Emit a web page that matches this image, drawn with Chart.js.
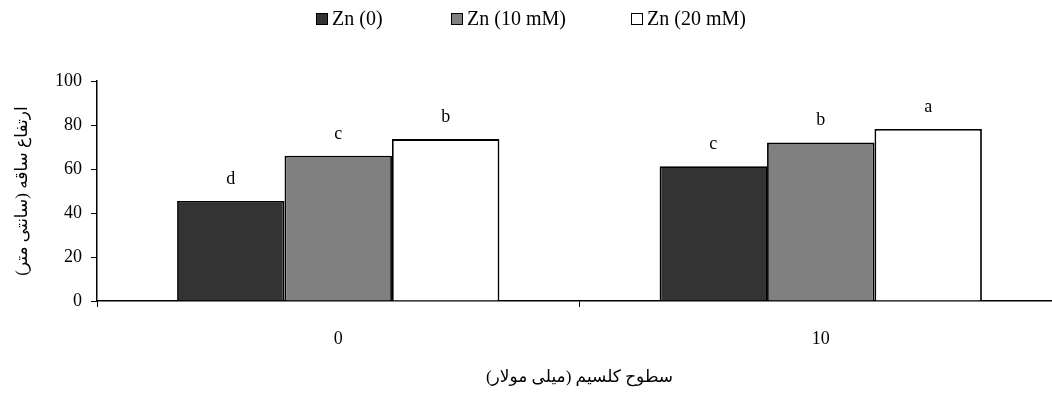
<!DOCTYPE html>
<html>
<head>
<meta charset="utf-8">
<script src="https://cdn.jsdelivr.net/npm/chart.js@4"></script>
<style>
    body { margin: 0; overflow: hidden; background: #fff; }
    #wrap { position: relative; width: 1062px; height: 394px; }
    #leyenda { position: absolute; top: 7px; left: 0; width: 1062px; height: 26px;
               font-family: 'Liberation Serif', serif; font-size: 20px; color: #000; }
    #leyenda span.item { position: absolute; display: flex; align-items: center; white-space: nowrap; }
    #leyenda span.caja { width: 10px; height: 10px; border: 1px solid #000; margin-right: 4px; display: inline-block; }
</style>
</head>
<body>
<div id="wrap">
    <div id="leyenda"></div>
    <canvas id="graficoZn" width="1062" height="394"></canvas>
</div>
<script>
// datos
const categorias = ['0', '10'];
const series = ['Zn (0)', 'Zn (10 mM)', 'Zn (20 mM)'];
const zn0 = [45.5, 61.3];
const zn10 = [66, 72];
const zn20 = [73.6, 78.2];
const letras = [['d', 'c'], ['c', 'b'], ['b', 'a']];
const ticksY = [0, 20, 40, 60, 80, 100];

const colores = ['#333333', '#808080', '#ffffff'];
const fuente = "'Liberation Serif', 'DejaVu Sans', serif";
const posLeyenda = [316, 451, 631]; // x de cada item de la leyenda

// leyenda en html
const leyenda = document.getElementById('leyenda');
series.forEach((nombre, i) => {
    const item = document.createElement('span');
    item.className = 'item';
    item.style.left = posLeyenda[i] + 'px';
    item.innerHTML = '<span class="caja" style="background:' + colores[i] + '"></span>' + nombre;
    leyenda.appendChild(item);
});

// letras encima de cada barra
const letrasPlugin = {
    id: 'letras',
    afterDatasetsDraw(chart) {
        const ctx = chart.ctx;
        ctx.save();
        ctx.font = '18px ' + fuente;
        ctx.fillStyle = '#000';
        ctx.textAlign = 'center';
        ctx.textBaseline = 'middle';
        chart.data.datasets.forEach((ds, i) => {
            chart.getDatasetMeta(i).data.forEach((barra, j) => {
                ctx.fillText(letras[i][j], barra.x, barra.y - 22);
            });
        });
        ctx.restore();
    }
};

const ctx = document.getElementById('graficoZn').getContext('2d');
const grafico = new Chart(ctx, {
    type: 'bar',
    data: {
        labels: categorias,
        datasets: [zn0, zn10, zn20].map((valores, i) => ({
            label: series[i],
            data: valores,
            backgroundColor: colores[i],
            borderColor: '#000',
            borderWidth: 1.8,
            barPercentage: 1,
            categoryPercentage: 0.668
        }))
    },
    options: {
        responsive: false,
        animation: false,
        devicePixelRatio: 1,
        layout: { padding: { top: 81, left: 0, right: 0, bottom: 0 } },
        plugins: {
            legend: { display: false },
            tooltip: { enabled: false }
        },
        scales: {
            x: {
                afterFit: (scale) => { scale.height = 93; },
                grid: { drawOnChartArea: false, tickLength: 6, color: '#000', lineWidth: 1 },
                border: { color: '#000', width: 1.5 },
                ticks: { color: '#000', padding: 21, font: { family: fuente, size: 18 } },
                title: {
                    display: true,
                    text: 'سطوح کلسیم (میلی مولار)',
                    color: '#000',
                    font: { family: fuente, size: 17 },
                    padding: { top: 0, bottom: 6 }
                }
            },
            y: {
                min: 0,
                max: 100,
                afterFit: (scale) => { scale.width = 97; },
                afterBuildTicks: (scale) => { scale.ticks = ticksY.map(v => ({ value: v })); },
                grid: { drawOnChartArea: false, tickLength: 6, color: '#000', lineWidth: 1 },
                border: { color: '#000', width: 1.5 },
                ticks: { color: '#000', padding: 9, font: { family: fuente, size: 18 } },
                title: {
                    display: true,
                    text: 'ارتفاع ساقه (سانتی متر)',
                    color: '#000',
                    font: { family: fuente, size: 17 },
                    padding: { top: 12, bottom: 0 }
                }
            }
        }
    },
    plugins: [letrasPlugin]
});
</script>
</body>
</html>
